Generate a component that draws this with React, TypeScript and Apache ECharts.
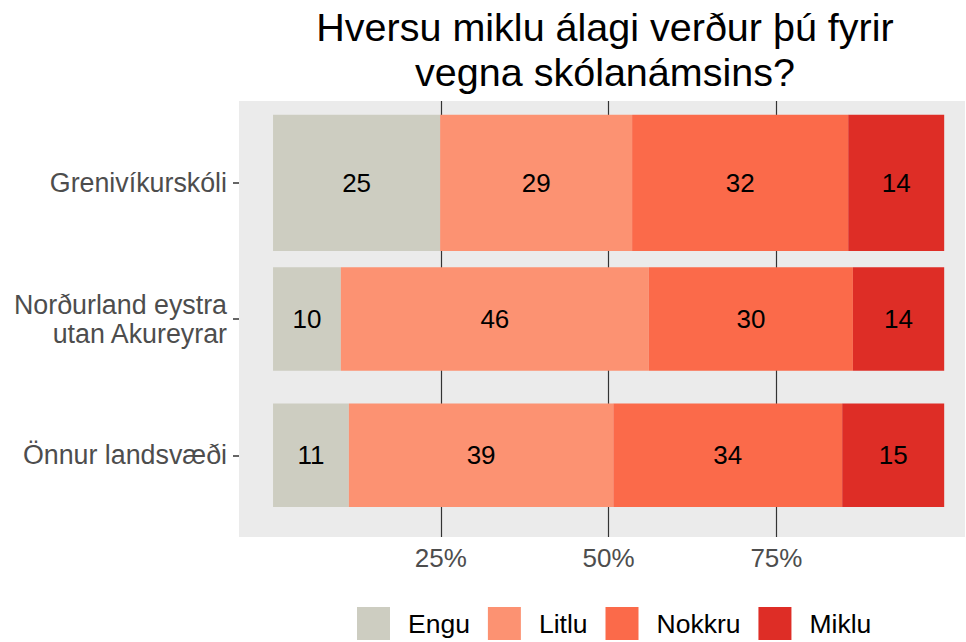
import React, { useEffect, useRef } from "react";
import * as echarts from "echarts";

const categories = ["Grenivíkurskóli", "Norðurland eystra\nutan Akureyrar", "Önnur landsvæði"];
const seriesNames = ["Engu", "Litlu", "Nokkru", "Miklu"];
const engu = [24.9, 10.1, 11.3];
const litlu = [28.6, 45.9, 39.4];
const nokkru = [32.2, 30.4, 34.1];
const miklu = [14.3, 13.6, 15.2];
const xTicks = [25, 50, 75];
const title = "Hversu miklu álagi verður þú fyrir\nvegna skólanámsins?";

const barThickness = [1.0, 0.76, 0.76];
const colors = ["#CDCDC1", "#FC9272", "#FB6A4A", "#DE2D26"];
const FONT = "'Liberation Sans', Arial, Helvetica, sans-serif";

export default function App() {
  const ref = useRef<HTMLDivElement>(null);
  useEffect(() => {
    document.body.style.margin = "0";
    const chart = echarts.init(ref.current!, null, { renderer: "svg" });
    const values = [engu, litlu, nokkru, miklu];
    const series: any[] = seriesNames.map((name, s) => ({
      type: "custom",
      name,
      z: 10,
      itemStyle: { color: colors[s] },
      encode: { x: [0, 1], y: 2 },
      data: categories.map((_, i) => {
        let start = 0;
        for (let k = 0; k < s; k++) start += values[k][i];
        return [start, start + values[s][i], i + 1, values[s][i]];
      }),
      renderItem: (params: any, api: any) => {
        const cat = api.value(2);
        const p0 = api.coord([api.value(0), cat]);
        const p1 = api.coord([api.value(1), cat]);
        const h = api.size([0, barThickness[cat - 1]])[1];
        return {
          type: "rect",
          shape: { x: p0[0], y: p0[1] - h / 2, width: p1[0] - p0[0], height: h },
          style: { fill: colors[s] },
          textContent: {
            style: {
              text: String(Math.round(api.value(3))),
              fontSize: 26,
              fill: "#000000",
              fontFamily: FONT,
            },
          },
          textConfig: { position: "inside" },
        };
      },
    }));
    series.push({
      type: "line",
      name: "grid",
      data: [],
      z: 1,
      silent: true,
      markLine: {
        silent: true,
        z: 1,
        symbol: ["none", "none"],
        label: { show: false },
        lineStyle: { color: "#333333", width: 1.2, type: "solid" },
        data: xTicks.map((v) => ({ xAxis: v })),
      },
    });

    chart.setOption({
      animation: false,
      textStyle: { fontFamily: FONT },
      grid: {
        left: 239,
        right: 1,
        top: 101,
        bottom: 105,
        show: true,
        backgroundColor: "#EBEBEB",
        borderWidth: 0,
      },
      xAxis: {
        type: "value",
        min: -5.07,
        max: 103.1,
        axisLine: { show: false, onZero: false },
        axisTick: { show: false },
        splitLine: { show: false },
        axisLabel: {
          customValues: xTicks,
          formatter: (v: number) => `${v}%`,
          fontSize: 26,
          color: "#4D4D4D",
          margin: 8,
          fontFamily: FONT,
        },
      },
      yAxis: {
        type: "value",
        min: 0.4,
        max: 3.6,
        inverse: true,
        axisLine: { show: false, onZero: false },
        splitLine: { show: false },
        axisTick: {
          show: true,
          customValues: [1, 2, 3],
          length: 6,
          lineStyle: { color: "#333333", width: 1.5 },
        },
        axisLabel: {
          customValues: [1, 2, 3],
          formatter: (v: number) => categories[Math.round(v) - 1],
          fontSize: 26.8,
          lineHeight: 29,
          color: "#4D4D4D",
          margin: 12,
          align: "right",
          fontFamily: FONT,
        },
      },
      legend: {
        data: seriesNames,
        left: 357,
        top: 607,
        padding: 0,
        itemWidth: 33,
        itemHeight: 33,
        itemGap: 18,
        icon: "rect",
        textStyle: { fontSize: 26.5, color: "#000000", padding: [0, 0, 0, 13], fontFamily: FONT },
      },
      graphic: [
        {
          type: "text",
          x: 605,
          y: 4,
          style: {
            text: title,
            fontSize: 39.5,
            lineHeight: 45,
            fill: "#000000",
            align: "center",
            fontFamily: FONT,
          },
        },
      ],
      series,
    });
    return () => chart.dispose();
  }, []);
  return <div ref={ref} style={{ width: 966, height: 642 }} />;
}
